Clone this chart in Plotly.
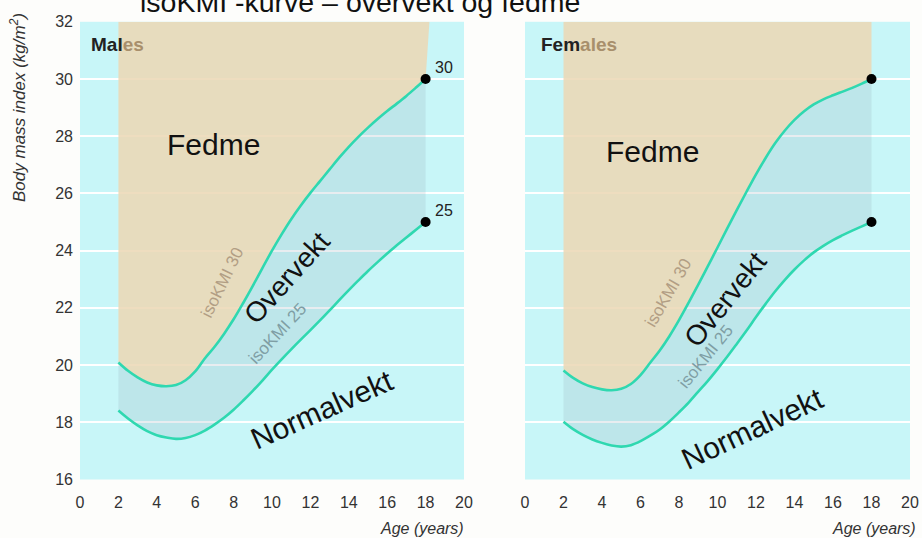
import plotly.graph_objects as go

# ---------------- data ----------------
ages = [2, 2.5, 3, 3.5, 4, 4.5, 5, 5.5, 6, 6.5, 7, 7.5, 8, 8.5, 9, 9.5, 10,
        10.5, 11, 11.5, 12, 12.5, 13, 13.5, 14, 14.5, 15, 15.5, 16, 16.5, 17, 17.5, 18]
males_25 = [18.41, 18.13, 17.89, 17.69, 17.55, 17.47, 17.42, 17.45, 17.55, 17.71, 17.92,
            18.16, 18.44, 18.76, 19.10, 19.46, 19.84, 20.20, 20.55, 20.89, 21.22, 21.56,
            21.91, 22.27, 22.62, 22.96, 23.29, 23.60, 23.90, 24.19, 24.46, 24.73, 25.00]
males_30 = [20.09, 19.80, 19.57, 19.39, 19.29, 19.26, 19.30, 19.47, 19.78, 20.23, 20.63,
            21.09, 21.60, 22.17, 22.77, 23.39, 24.00, 24.57, 25.10, 25.58, 26.02, 26.43,
            26.84, 27.25, 27.63, 27.98, 28.30, 28.60, 28.88, 29.14, 29.41, 29.70, 30.00]
females_25 = [18.02, 17.76, 17.56, 17.40, 17.28, 17.19, 17.15, 17.20, 17.34, 17.53, 17.75,
              18.03, 18.35, 18.69, 19.07, 19.45, 19.86, 20.29, 20.74, 21.20, 21.68, 22.14,
              22.58, 22.98, 23.34, 23.66, 23.94, 24.17, 24.37, 24.54, 24.70, 24.85, 25.00]
females_30 = [19.81, 19.55, 19.36, 19.23, 19.15, 19.12, 19.17, 19.34, 19.65, 20.08, 20.51,
              21.01, 21.57, 22.18, 22.81, 23.46, 24.11, 24.77, 25.42, 26.05, 26.67, 27.24,
              27.76, 28.20, 28.57, 28.87, 29.11, 29.29, 29.43, 29.56, 29.69, 29.84, 30.00]
x_ticks = [0, 2, 4, 6, 8, 10, 12, 14, 16, 18, 20]
y_ticks = [16, 18, 20, 22, 24, 26, 28, 30, 32]
end_labels = ["30", "25"]
zone_labels = ["Fedme", "Overvekt", "Normalvekt"]
curve_labels = ["isoKMI 30", "isoKMI 25"]
title_text = "isoKMI -kurve \u2013 overvekt og fedme"

# ---------------- style ----------------
W, H = 922, 538
CYAN = "#c8f6f8"
BEIGE = "rgba(236,216,182,0.87)"
BAND = "rgba(150,175,188,0.22)"
CURVE = "#2fd8b0"
ARIAL = "Liberation Sans, Arial, sans-serif"
Y_TOP = 32

fig = go.Figure()

panels = [
    dict(lo=males_25, hi=males_30, xa="x", ya="y", top_shift=0.2),
    dict(lo=females_25, hi=females_30, xa="x2", ya="y2", top_shift=0.0),
]

for p in panels:
    lo, hi = p["lo"], p["hi"]
    fx = ages + [ages[-1] + p["top_shift"], ages[0]]
    fy = hi + [Y_TOP, Y_TOP]
    fig.add_trace(go.Scatter(x=fx, y=fy, fill="toself", fillcolor=BEIGE, mode="none",
                             hoverinfo="skip", showlegend=False, xaxis=p["xa"], yaxis=p["ya"]))
    bx = ages + ages[::-1]
    by = hi + lo[::-1]
    fig.add_trace(go.Scatter(x=bx, y=by, fill="toself", fillcolor=BAND, mode="none",
                             hoverinfo="skip", showlegend=False, xaxis=p["xa"], yaxis=p["ya"]))
    for c in (hi, lo):
        fig.add_trace(go.Scatter(x=ages, y=c, mode="lines",
                                 line=dict(color=CURVE, width=2.6, shape="spline"),
                                 showlegend=False, xaxis=p["xa"], yaxis=p["ya"]))
    fig.add_trace(go.Scatter(x=[ages[-1], ages[-1]], y=[hi[-1], lo[-1]], mode="markers",
                             marker=dict(color="black", size=10),
                             showlegend=False, xaxis=p["xa"], yaxis=p["ya"]))


def px(x):
    return x / W


def py(y):
    return 1 - y / H


xdom1 = [px(80), px(464)]
xdom2 = [px(525), px(910)]
ydom = [py(479.5), py(21.8)]

axis_common = dict(showline=False, zeroline=False, automargin=False,
                   tickfont=dict(family=ARIAL, size=16, color="#333333"))

fig.update_layout(
    template="none",
    width=W, height=H,
    margin=dict(l=0, r=0, t=0, b=0, autoexpand=False),
    paper_bgcolor="#fdfdfb",
    plot_bgcolor=CYAN,
    showlegend=False,
    xaxis=dict(domain=xdom1, range=[0, 20], tickvals=x_ticks, showgrid=False,
               ticks="outside", ticklen=8, tickcolor="rgba(0,0,0,0)", **axis_common),
    xaxis2=dict(domain=xdom2, range=[0, 20], tickvals=x_ticks, showgrid=False,
                ticks="outside", ticklen=8, tickcolor="rgba(0,0,0,0)", anchor="y2",
                **axis_common),
    yaxis=dict(domain=ydom, range=[16, 32], tickvals=y_ticks, showgrid=True, ticks="",
               gridcolor="white", gridwidth=2, ticklabelstandoff=6, **axis_common),
    yaxis2=dict(domain=ydom, range=[16, 32], tickvals=y_ticks, showgrid=True, ticks="",
                gridcolor="white", gridwidth=2, showticklabels=False, anchor="x2",
                **axis_common),
)

ann = []
ann.append(dict(text=title_text, xref="paper", yref="paper", x=px(138), y=py(20),
                xanchor="left", yanchor="bottom", showarrow=False,
                font=dict(family=ARIAL, size=28.5, color="#111111")))
ann.append(dict(text="<i>Body mass index (kg/m<sup>2</sup>)</i>", xref="paper", yref="paper",
                x=px(18), y=py(108), xanchor="center", yanchor="middle", textangle=-90,
                showarrow=False, font=dict(family=ARIAL, size=17, color="#333333")))
for xr in (466, 918):
    ann.append(dict(text="<i>Age (years)</i>", xref="paper", yref="paper",
                    x=px(xr), y=py(528), xanchor="right", yanchor="middle", showarrow=False,
                    font=dict(family=ARIAL, size=16, color="#333333")))
ann.append(dict(text="<b>Mal<span style='color:#a88f6c'>es</span></b>", xref="paper",
                yref="paper", x=px(89), y=py(44), xanchor="left", yanchor="middle",
                showarrow=False, font=dict(family=ARIAL, size=19, color="#222222")))
ann.append(dict(text="<b>Fem<span style='color:#a88f6c'>ales</span></b>", xref="paper",
                yref="paper", x=px(539), y=py(45), xanchor="left", yanchor="middle",
                showarrow=False, font=dict(family=ARIAL, size=19, color="#222222")))

label_pos = {
    "x": dict(fedme=(6.95, 27.7), over=(10.8, 23.05, -48), normal=(12.6, 18.43, -24),
              k30=(7.4, 22.9, -64), k25=(10.3, 21.1, -47)),
    "x2": dict(fedme=(6.6, 27.45), over=(10.4, 22.3, -51), normal=(11.8, 17.8, -25),
               k30=(7.45, 22.55, -60), k25=(9.4, 20.3, -51)),
}
for xa, ya in (("x", "y"), ("x2", "y2")):
    lp = label_pos[xa]
    ann.append(dict(text=zone_labels[0], xref=xa, yref=ya, x=lp["fedme"][0], y=lp["fedme"][1],
                    showarrow=False, font=dict(family=ARIAL, size=30, color="#111111")))
    ann.append(dict(text=zone_labels[1], xref=xa, yref=ya, x=lp["over"][0], y=lp["over"][1],
                    textangle=lp["over"][2], showarrow=False,
                    font=dict(family=ARIAL, size=28, color="#111111")))
    ann.append(dict(text=zone_labels[2], xref=xa, yref=ya, x=lp["normal"][0], y=lp["normal"][1],
                    textangle=lp["normal"][2], showarrow=False,
                    font=dict(family=ARIAL, size=30, color="#111111")))
    ann.append(dict(text=curve_labels[0], xref=xa, yref=ya, x=lp["k30"][0], y=lp["k30"][1],
                    textangle=lp["k30"][2], showarrow=False,
                    font=dict(family=ARIAL, size=17, color="#b29e84")))
    ann.append(dict(text=curve_labels[1], xref=xa, yref=ya, x=lp["k25"][0], y=lp["k25"][1],
                    textangle=lp["k25"][2], showarrow=False,
                    font=dict(family=ARIAL, size=17, color="#7f9ea4")))

for lab, val in zip(end_labels, [males_30[-1], males_25[-1]]):
    ann.append(dict(text=lab, xref="x", yref="y", x=ages[-1], y=val, xshift=18, yshift=12,
                    showarrow=False, font=dict(family=ARIAL, size=16, color="#222222")))

fig.update_layout(annotations=ann)
fig.write_html("out.html", config={"displayModeBar": False},
               post_script="document.body.style.margin='0';document.body.style.overflow='hidden';")
